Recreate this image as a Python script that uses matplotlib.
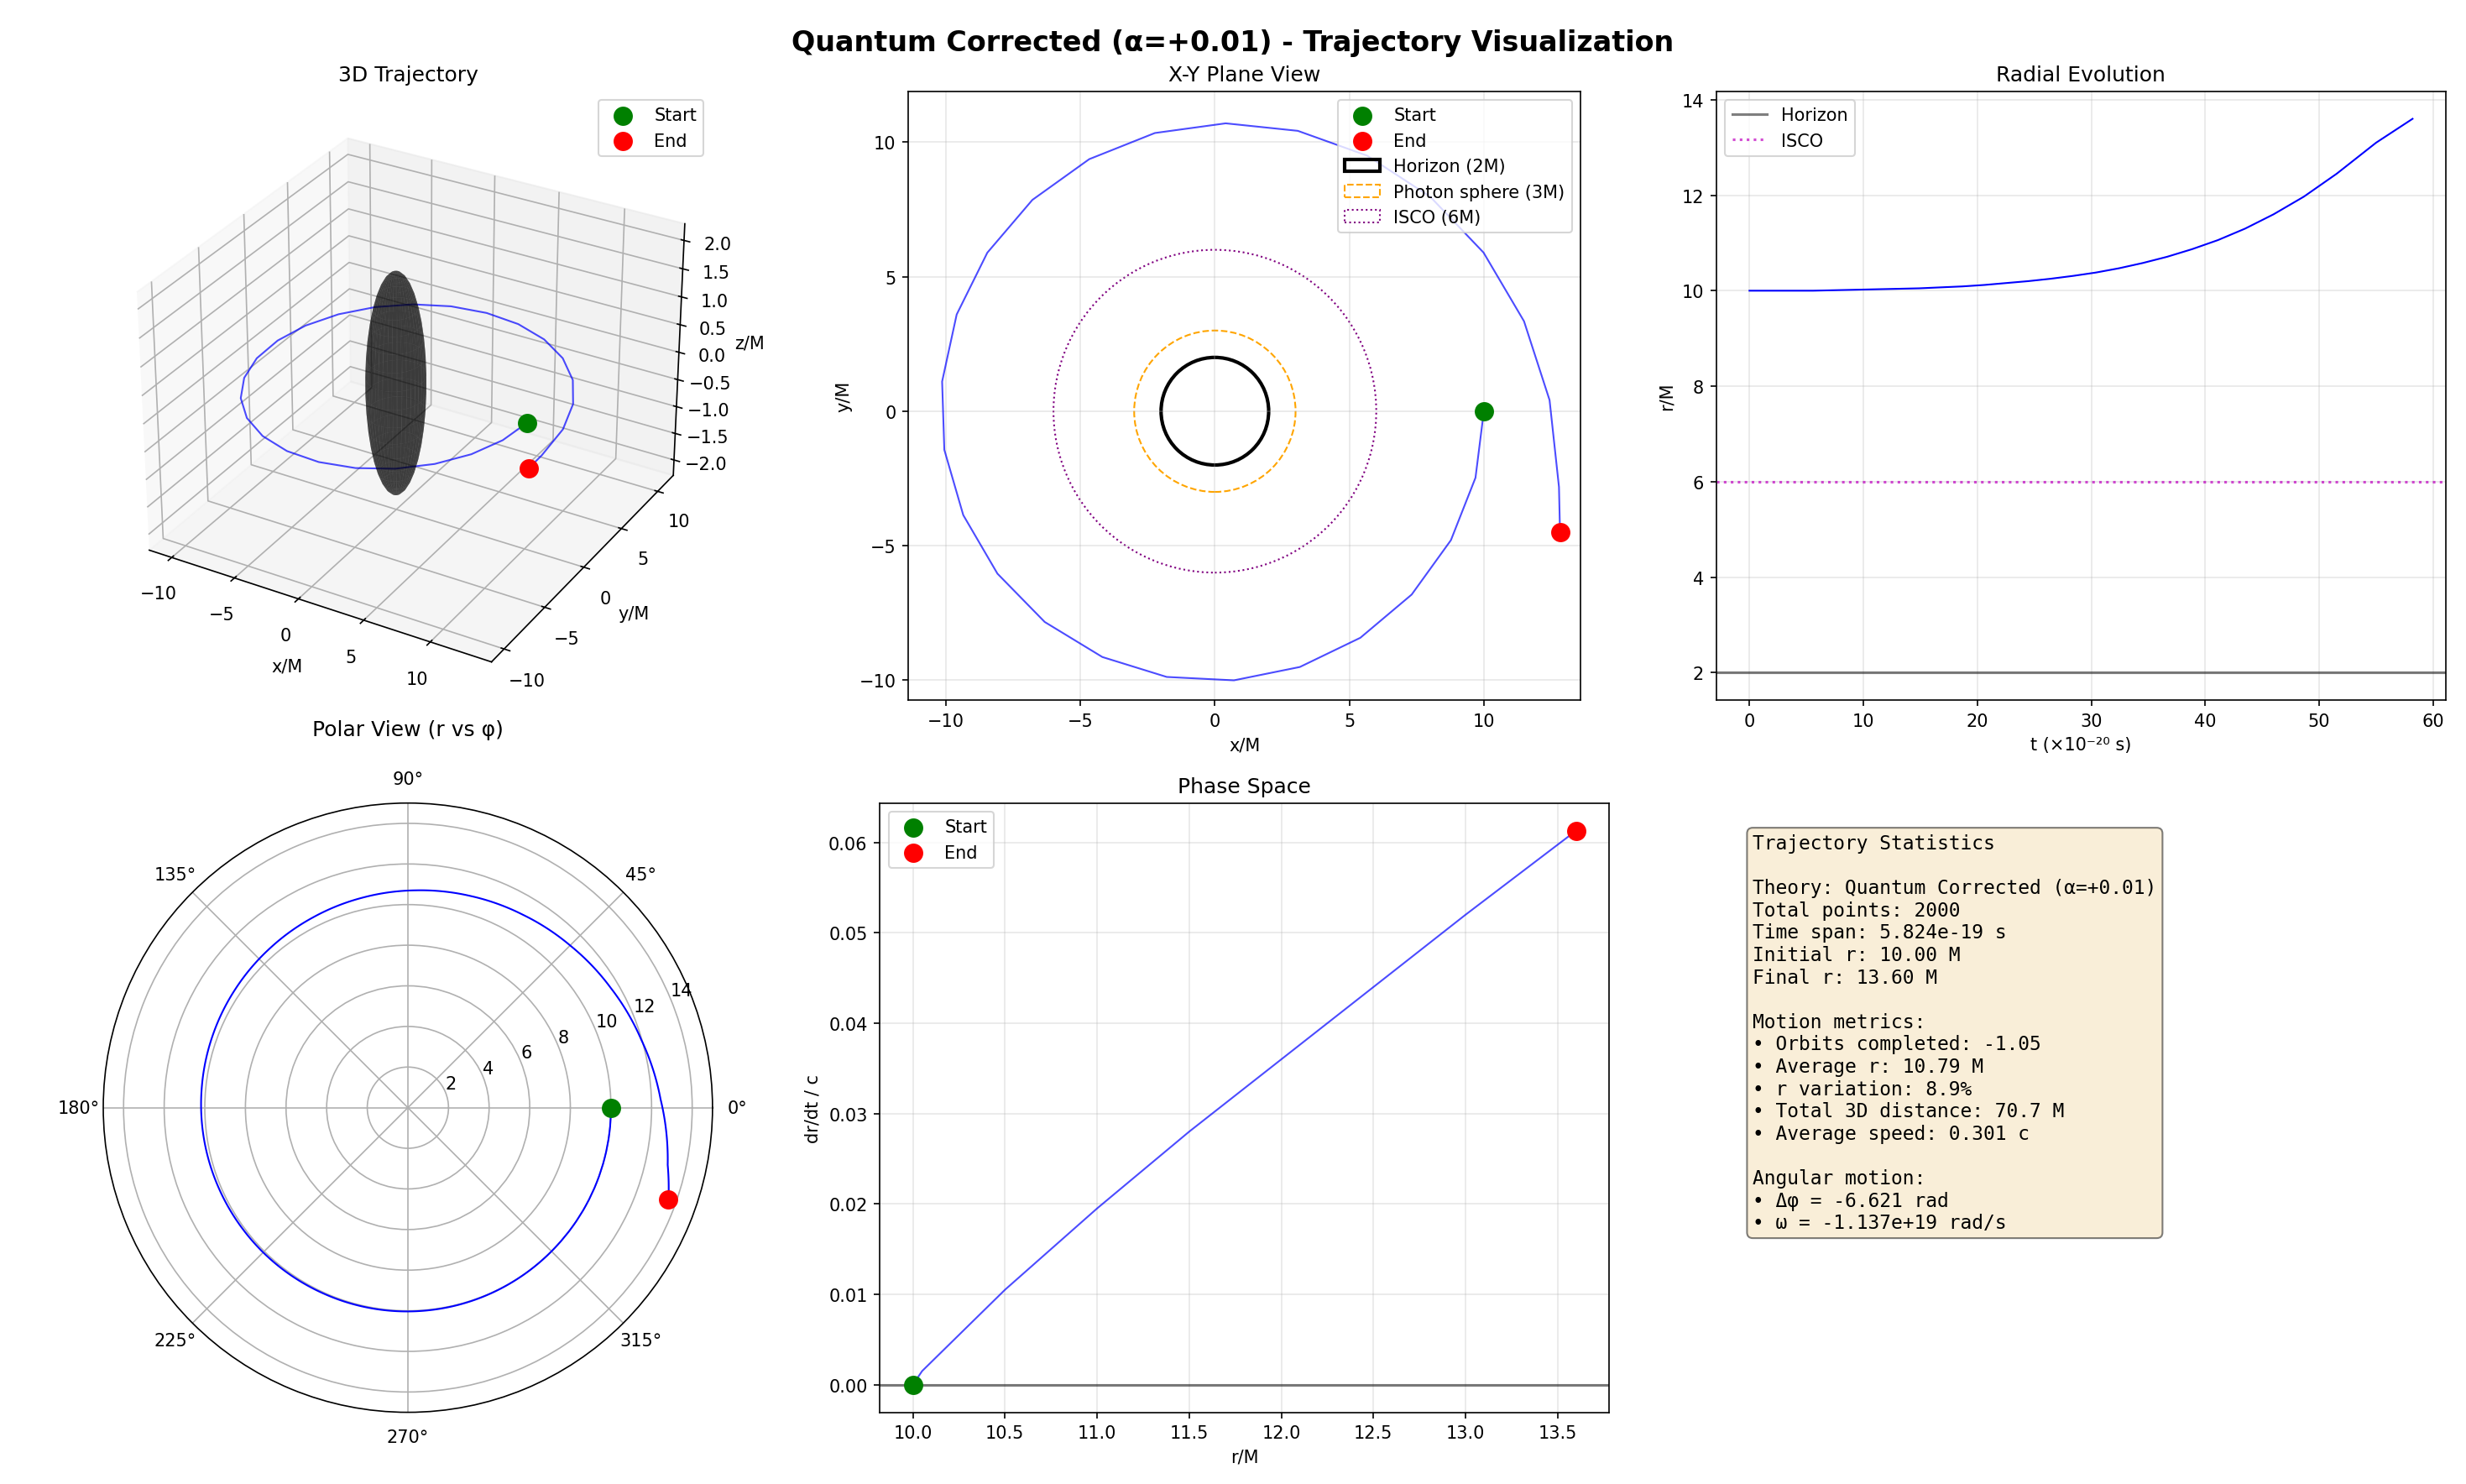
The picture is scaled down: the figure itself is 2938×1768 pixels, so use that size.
import numpy as np
import matplotlib
matplotlib.use("Agg")
import matplotlib.pyplot as plt
from matplotlib.projections.polar import PolarTransform

# orbit samples
phi = [0, -0.25, -0.5, -0.75, -1.0, -1.25, -1.5, -1.75, -2.0, -2.25, -2.5, -2.75, -3.0, -3.25,
       -3.5, -3.75, -4.0, -4.25, -4.5, -4.75, -5.0, -5.25, -5.5, -5.75, -6.0, -6.25, -6.5, -6.621]
r = [10.00, 10.00, 10.00, 10.00, 10.01, 10.02, 10.03, 10.04, 10.05, 10.07, 10.09, 10.12, 10.16, 10.20,
     10.25, 10.31, 10.38, 10.47, 10.58, 10.71, 10.87, 11.06, 11.30, 11.60, 11.97, 12.45, 13.10, 13.60]
t = [0, 1.86, 3.72, 5.58, 7.45, 9.31, 11.18, 13.05, 14.92, 16.80, 18.70, 20.60, 22.52, 24.46,
     26.42, 28.40, 30.40, 32.44, 34.52, 36.65, 38.85, 41.12, 43.50, 46.00, 48.66, 51.54, 55.0, 58.2]
r_phase = [10.0, 10.05, 10.2, 10.5, 11.0, 11.5, 12.0, 12.5, 13.0, 13.6]
v_phase = [0.0, 0.0015, 0.0045, 0.0105, 0.0195, 0.028, 0.036, 0.044, 0.052, 0.0613]

stats = """Trajectory Statistics

Theory: Quantum Corrected (α=+0.01)
Total points: 2000
Time span: 5.824e-19 s
Initial r: 10.00 M
Final r: 13.60 M

Motion metrics:
• Orbits completed: -1.05
• Average r: 10.79 M
• r variation: 8.9%
• Total 3D distance: 70.7 M
• Average speed: 0.301 c

Angular motion:
• Δφ = -6.621 rad
• ω = -1.137e+19 rad/s"""

phi_a = np.array(phi); r_a = np.array(r)
x = r_a * np.cos(phi_a); y = r_a * np.sin(phi_a); z = np.zeros_like(x)

fig = plt.figure(figsize=(19.587, 11.793), dpi=150)
fig.suptitle("Quantum Corrected (α=+0.01) - Trajectory Visualization", fontsize=16, fontweight="bold")

# 3D
ax1 = fig.add_subplot(2, 3, 1, projection="3d")
ax1.plot(x, y, z, color="blue", alpha=0.7, lw=1)
u = np.linspace(0, 2*np.pi, 40); v = np.linspace(0, np.pi, 20)
ax1.plot_surface(2*np.outer(np.cos(u), np.sin(v)), 2*np.outer(np.sin(u), np.sin(v)),
                 2*np.outer(np.ones_like(u), np.cos(v)), color="black", alpha=0.5)
ax1.scatter([x[0]], [y[0]], [0], color="green", s=100, label="Start", depthshade=False)
ax1.scatter([x[-1]], [y[-1]], [0], color="red", s=100, label="End", depthshade=False)
ax1.set_xlabel("x/M"); ax1.set_ylabel("y/M"); ax1.set_zlabel("z/M")
ax1.set_title("3D Trajectory"); ax1.legend()

# XY
ax2 = fig.add_subplot(2, 3, 2)
ln, = ax2.plot(phi_a, r_a, color="blue", alpha=0.7, lw=1,
               transform=PolarTransform(apply_theta_transforms=False) + ax2.transData)
ln.get_path()._interpolation_steps = 40
ax2.scatter(x[0], y[0], color="green", s=100, label="Start", zorder=5)
ax2.scatter(x[-1], y[-1], color="red", s=100, label="End", zorder=5)
ax2.add_patch(plt.Circle((0, 0), 2, fill=False, color="black", lw=2, label="Horizon (2M)"))
ax2.add_patch(plt.Circle((0, 0), 3, fill=False, color="orange", ls="--", label="Photon sphere (3M)"))
ax2.add_patch(plt.Circle((0, 0), 6, fill=False, color="purple", ls=":", label="ISCO (6M)"))
ax2.set_xlim(-11.4, 13.6); ax2.set_ylim(-10.75, 11.9)
ax2.set_aspect("equal"); ax2.grid(alpha=0.3)
ax2.set_xlabel("x/M"); ax2.set_ylabel("y/M"); ax2.set_title("X-Y Plane View"); ax2.legend(loc="upper right")

# radial
ax3 = fig.add_subplot(2, 3, 3)
ax3.plot(t, r, color="blue", lw=1)
ax3.axhline(2, color="black", alpha=0.5, label="Horizon")
ax3.axhline(6, color="m", ls=":", alpha=0.7, label="ISCO")
ax3.set_xlabel("t (×10⁻²⁰ s)"); ax3.set_ylabel("r/M"); ax3.set_title("Radial Evolution")
ax3.grid(alpha=0.3); ax3.legend(loc="upper left")

# polar
ax4 = fig.add_subplot(2, 3, 4, projection="polar")
pl, = ax4.plot(phi_a, r_a, color="blue", lw=1)
pl.get_path()._interpolation_steps = 40
ax4.scatter(phi_a[0], r_a[0], color="green", s=100, zorder=5)
ax4.scatter(phi_a[-1], r_a[-1], color="red", s=100, zorder=5)
ax4.set_rmax(15); ax4.set_rticks([2, 4, 6, 8, 10, 12, 14])
ax4.set_title("Polar View (r vs φ)", pad=20)

# phase
ax5 = fig.add_subplot(2, 3, 5)
ax5.plot(r_phase, v_phase, color="blue", alpha=0.7, lw=1)
ax5.axhline(0, color="black", alpha=0.5)
ax5.scatter(r_phase[0], v_phase[0], color="green", s=100, label="Start", zorder=5)
ax5.scatter(r_phase[-1], v_phase[-1], color="red", s=100, label="End", zorder=5)
ax5.set_xlabel("r/M"); ax5.set_ylabel("dr/dt / c"); ax5.set_title("Phase Space")
ax5.grid(alpha=0.3); ax5.legend(loc="upper left")

ax6 = fig.add_subplot(2, 3, 6)
ax6.axis("off")
ax6.text(0.05, 0.95, stats, transform=ax6.transAxes, va="top", family="monospace", fontsize=11,
         bbox=dict(boxstyle="round", facecolor="wheat", alpha=0.5))

plt.tight_layout()
fig.savefig("out.png", dpi=150)
